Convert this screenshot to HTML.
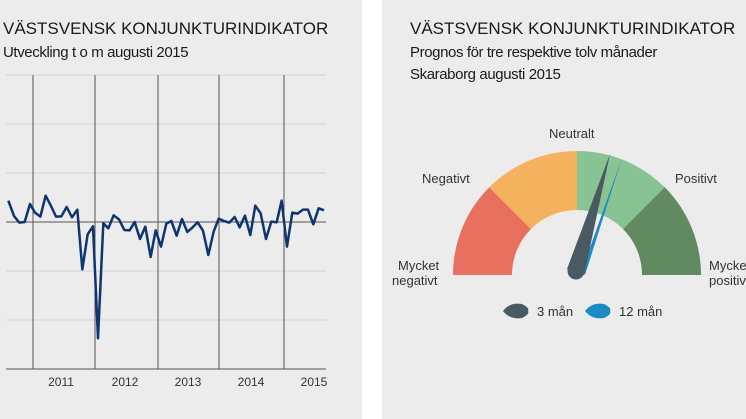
<!DOCTYPE html>
<html><head><meta charset="utf-8"><style>
html,body{margin:0;padding:0;background:#fff;}
body{width:746px;height:419px;overflow:hidden;position:relative;font-family:"Liberation Sans",sans-serif;}
</style></head><body>
<svg width="746" height="419" viewBox="0 0 746 419" xmlns="http://www.w3.org/2000/svg" style="position:absolute;left:0;top:0;font-family:'Liberation Sans',sans-serif">
<rect x="0" y="0" width="362" height="419" fill="#ececec"/>
<rect x="382" y="0" width="364" height="419" fill="#ececec"/>
<text x="3" y="34" font-size="17" fill="#1a1a1a">VÄSTSVENSK KONJUNKTURINDIKATOR</text>
<text x="3" y="57" font-size="15" fill="#1a1a1a" letter-spacing="-0.4">Utveckling t o m augusti 2015</text>
<g stroke="#d4d4d4" stroke-width="1">
<line x1="6" y1="75" x2="326" y2="75"/><line x1="6" y1="124" x2="326" y2="124"/><line x1="6" y1="173" x2="326" y2="173"/>
<line x1="6" y1="271" x2="326" y2="271"/><line x1="6" y1="320" x2="326" y2="320"/>
</g>
<g stroke="#555" stroke-width="1">
<line x1="33" y1="75" x2="33" y2="369"/><line x1="95" y1="75" x2="95" y2="369"/><line x1="158" y1="75" x2="158" y2="369"/><line x1="219" y1="75" x2="219" y2="369"/><line x1="284" y1="75" x2="284" y2="369"/>
<line x1="6" y1="222" x2="326" y2="222"/><line x1="6" y1="369" x2="326" y2="369"/>
</g>
<g font-size="12" fill="#333" text-anchor="middle">
<text x="61" y="386">2011</text><text x="125" y="386">2012</text><text x="188" y="386">2013</text><text x="251" y="386">2014</text><text x="314" y="386">2015</text>
</g>
<g transform="translate(0,60) scale(0.3333)">
<polyline fill="none" stroke="#0d3570" stroke-width="7.5" stroke-linejoin="round" points="25,422 42,468 58,488 74,486 90,432 105,458 121,470 137,407 153,438 168,470 184,469 200,441 216,472 232,449 247,628 263,523 279,499 294,835 310,490 325,505 341,466 357,478 373,510 389,511 404,486 420,537 436,500 452,591 467,511 483,560 499,491 514,483 530,527 546,477 562,516 577,503 593,487 609,512 625,585 641,515 656,476 672,483 688,488 704,471 719,502 735,467 751,525 766,437 782,460 798,537 814,485 830,487 845,422 861,560 877,458 893,461 909,449 924,449 940,493 956,445 972,451"/>
</g>
<text x="410" y="34" font-size="17" fill="#1a1a1a">VÄSTSVENSK KONJUNKTURINDIKATOR</text>
<text x="410" y="57" font-size="15" fill="#1a1a1a" letter-spacing="-0.4">Prognos för tre respektive tolv månader</text>
<text x="410" y="79" font-size="15" fill="#1a1a1a" letter-spacing="-0.4">Skaraborg augusti 2015</text>
<g transform="translate(577,275)">
<path d="M-124,0 A124,124 0 0 1 -87.7,-87.7 L-46,-46 A65,65 0 0 0 -65,0 Z" fill="#e8705f"/>
<path d="M-87.7,-87.7 A124,124 0 0 1 0,-124 L0,-65 A65,65 0 0 0 -46,-46 Z" fill="#f4b25f"/>
<path d="M0,-124 A124,124 0 0 1 87.7,-87.7 L46,-46 A65,65 0 0 0 0,-65 Z" fill="#88c493"/>
<path d="M87.7,-87.7 A124,124 0 0 1 124,0 L65,0 A65,65 0 0 0 46,-46 Z" fill="#628a61"/>
<path d="M5,-5 L45,-117 L8,0 Z" fill="#1a8bc4"/>
<path d="M-10,-6 L33,-121 L7,0 Z" fill="#4a5a63"/>
<circle cx="-1" cy="-4" r="8.5" fill="#4a5a63"/>
</g>
<g font-size="13" fill="#333">
<text x="549" y="138">Neutralt</text>
<text x="422" y="183">Negativt</text>
<text x="675" y="183">Positivt</text>
<text x="398" y="270">Mycket</text><text x="392" y="285">negativt</text>
<text x="709" y="270">Mycket</text><text x="709" y="285">positivt</text>
</g>
<path d="M503,311 Q510,302 522,304 Q530,308 528,311 Q530,314 522,318 Q510,320 503,311 Z" fill="#4a5a63"/>
<text x="537" y="316" font-size="13" fill="#333">3 mån</text>
<path d="M585,311 Q592,302 604,304 Q612,308 610,311 Q612,314 604,318 Q592,320 585,311 Z" fill="#1a8bc4"/>
<text x="619" y="316" font-size="13" fill="#333">12 mån</text>
</svg>
</body></html>
